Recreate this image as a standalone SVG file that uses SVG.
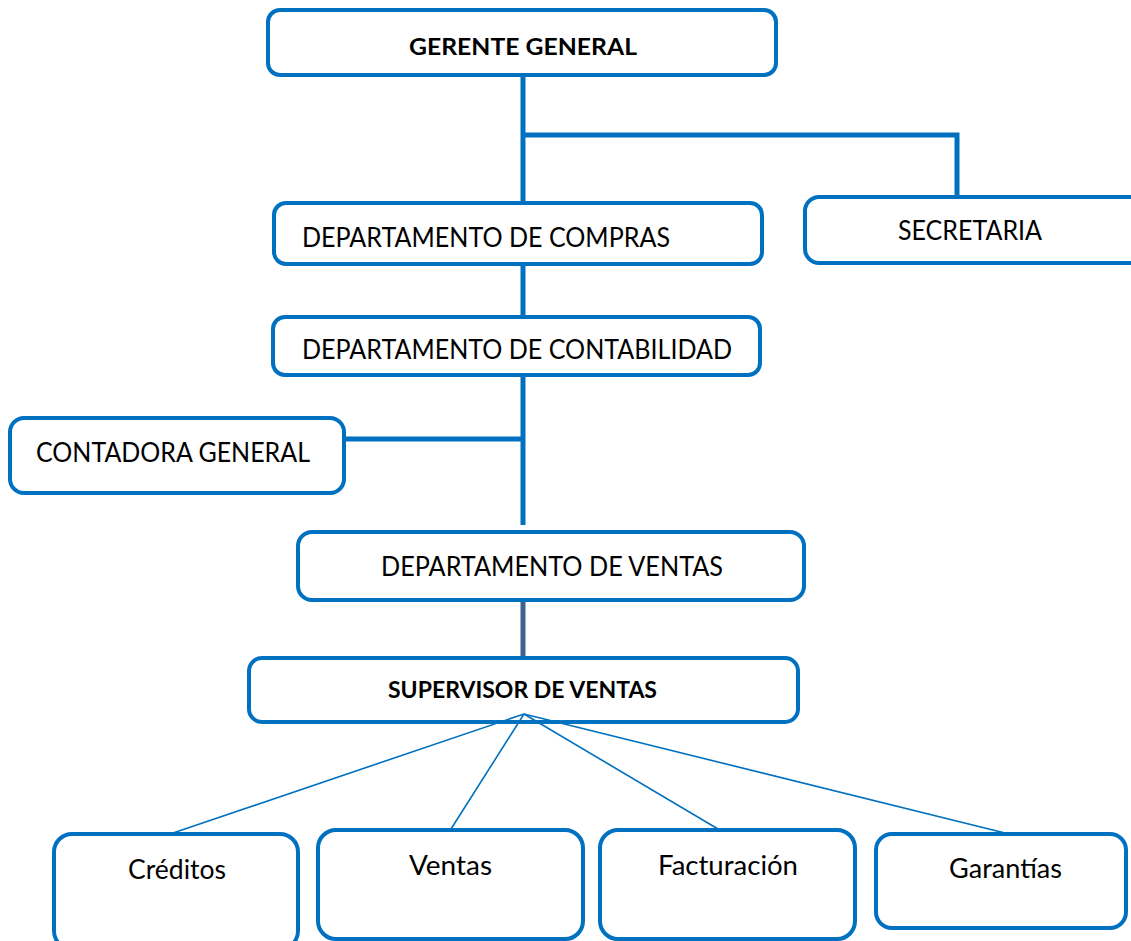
<svg xmlns="http://www.w3.org/2000/svg" width="1131" height="941" viewBox="0 0 1131 941">
  <style>
    .box { fill: #ffffff; stroke: #0070C0; stroke-width: 4; }
    .lbl { font-family: Lato, "Open Sans", "Liberation Sans", sans-serif; font-size: 26px; fill: #000000; }
    .bold { font-weight: bold; font-size: 23px; }
    .trunk { stroke: #0070C0; stroke-width: 5; fill: none; stroke-linecap: butt; }
    .dark { stroke: #41618F; stroke-width: 5; fill: none; }
    .fan { stroke: #0070C0; stroke-width: 1.6; fill: none; }
  </style>
  <rect width="1131" height="941" fill="#ffffff"/>

  <!-- hierarchy connectors -->
  <g id="connectors">
    <path class="trunk" d="M523 76 V203"/>
    <path class="trunk" d="M523 135 H957 V200"/>
    <path class="trunk" d="M523 264 V318"/>
    <path class="trunk" d="M523 375 V525"/>
    <path class="trunk" d="M344 439 H523"/>
    <path class="dark" d="M523 600 V658"/>
  </g>

  <g id="gerente-general">
    <rect class="box" x="268" y="10" width="508" height="65" rx="12"/>
    <text class="lbl bold" x="409" y="55" textLength="228" lengthAdjust="spacingAndGlyphs">GERENTE GENERAL</text>
  </g>

  <g id="departamento-compras">
    <rect class="box" x="274" y="203" width="488" height="61" rx="12"/>
    <text class="lbl" x="302" y="247" textLength="368" lengthAdjust="spacingAndGlyphs">DEPARTAMENTO DE COMPRAS</text>
  </g>

  <g id="secretaria">
    <rect class="box" x="805" y="197" width="340" height="66" rx="14"/>
    <text class="lbl" x="898" y="240" textLength="144" lengthAdjust="spacingAndGlyphs">SECRETARIA</text>
  </g>

  <g id="departamento-contabilidad">
    <rect class="box" x="273" y="317" width="487" height="58" rx="12"/>
    <text class="lbl" x="302" y="359" textLength="430" lengthAdjust="spacingAndGlyphs">DEPARTAMENTO DE CONTABILIDAD</text>
  </g>

  <g id="contadora-general">
    <rect class="box" x="10" y="418" width="334" height="75" rx="14"/>
    <text class="lbl" x="36" y="462" textLength="274" lengthAdjust="spacingAndGlyphs">CONTADORA GENERAL</text>
  </g>

  <g id="departamento-ventas">
    <rect class="box" x="298" y="532" width="506" height="68" rx="14"/>
    <text class="lbl" x="381" y="576" textLength="342" lengthAdjust="spacingAndGlyphs">DEPARTAMENTO DE VENTAS</text>
  </g>

  <g id="supervisor-ventas">
    <rect class="box" x="249" y="658" width="549" height="64" rx="13"/>
    <text class="lbl bold" x="388" y="698" textLength="269" lengthAdjust="spacingAndGlyphs">SUPERVISOR DE VENTAS</text>
  </g>

  <!-- fan from the supervisor to the four sections -->
  <g id="fan-connectors">
    <path class="fan" d="M524 714 L173 833"/>
    <path class="fan" d="M524 714 L451 829"/>
    <path class="fan" d="M524 714 L718 829"/>
    <path class="fan" d="M524 714 L1005 833"/>
  </g>

  <g id="creditos">
    <rect class="box" x="54" y="834" width="244" height="115" rx="18"/>
    <text class="lbl" x="128" y="879" textLength="98" lengthAdjust="spacingAndGlyphs">Créditos</text>
  </g>

  <g id="ventas">
    <rect class="box" x="318" y="830" width="265" height="109" rx="18"/>
    <text class="lbl" x="409" y="875" textLength="83" lengthAdjust="spacingAndGlyphs">Ventas</text>
  </g>

  <g id="facturacion">
    <rect class="box" x="600" y="830" width="255" height="109" rx="18"/>
    <text class="lbl" x="658" y="875" textLength="140" lengthAdjust="spacingAndGlyphs">Facturación</text>
  </g>

  <g id="garantias">
    <rect class="box" x="876" y="834" width="250" height="94" rx="16"/>
    <text class="lbl" x="949" y="878" textLength="113" lengthAdjust="spacingAndGlyphs">Garantías</text>
  </g>
</svg>
